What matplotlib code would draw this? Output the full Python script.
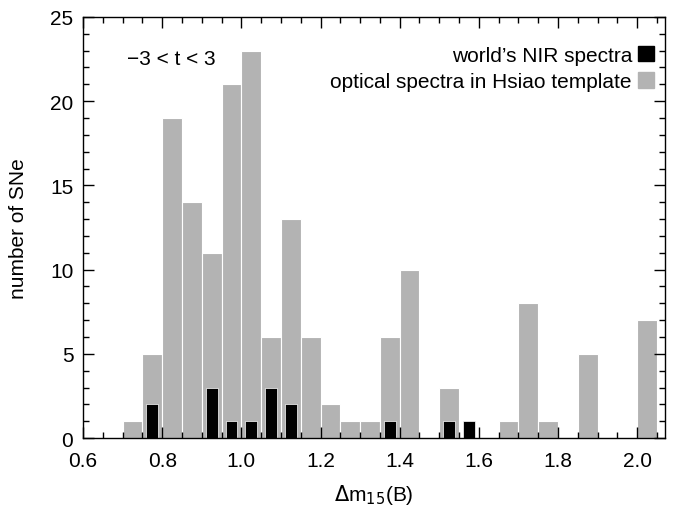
import numpy as np
import matplotlib
matplotlib.use("Agg")
import matplotlib.pyplot as plt
from matplotlib.patches import Patch
from matplotlib.ticker import MultipleLocator

plt.rcParams["font.family"] = ["Liberation Sans", "DejaVu Sans"]

# bin centres (bin width 0.05) and counts
bin_centres = [0.725, 0.775, 0.825, 0.875, 0.925, 0.975, 1.025, 1.075, 1.125,
               1.175, 1.225, 1.275, 1.325, 1.375, 1.425, 1.475, 1.525, 1.575,
               1.625, 1.675, 1.725, 1.775, 1.825, 1.875, 1.925, 1.975, 2.025]
optical_counts = [1, 5, 19, 14, 11, 21, 23, 6, 13,
                  6, 2, 1, 1, 6, 10, 0, 3, 0,
                  0, 1, 8, 1, 0, 5, 0, 0, 7]
nir_counts = [0, 2, 0, 0, 3, 1, 1, 3, 2,
              0, 0, 0, 0, 1, 0, 0, 1, 1,
              0, 0, 0, 0, 0, 0, 0, 0, 0]

gray = "#b3b3b3"
fs = 15

fig = plt.figure(figsize=(6.75, 5.1), dpi=100)
ax = fig.add_axes([0.123, 0.139, 0.862, 0.826])

ax.bar(bin_centres, optical_counts, width=0.05, color=gray,
       edgecolor="white", linewidth=0.8)
ax.bar(bin_centres, nir_counts, width=0.03, color="black",
       edgecolor="white", linewidth=0.5)

ax.set_xlim(0.6, 2.07)
ax.set_ylim(0, 25)
ax.xaxis.set_major_locator(MultipleLocator(0.2))
ax.xaxis.set_minor_locator(MultipleLocator(0.05))
ax.yaxis.set_major_locator(MultipleLocator(5))
ax.yaxis.set_minor_locator(MultipleLocator(1))
ax.xaxis.set_major_formatter(matplotlib.ticker.FormatStrFormatter("%.1f"))
ax.tick_params(which="both", direction="in", top=True, right=True,
               labelsize=fs, width=1.0)
ax.tick_params(which="major", length=8)
ax.tick_params(which="minor", length=4)
ax.tick_params(axis="x", pad=9)
ax.tick_params(axis="y", pad=7)
for s in ax.spines.values():
    s.set_linewidth(1.0)

ax.set_xlabel(r"$\Delta$m$_{15}$(B)", fontsize=fs, labelpad=9)
ax.set_ylabel("number of SNe", fontsize=fs, labelpad=16)

ax.text(0.712, 22.5, "\u22123 < t < 3", fontsize=fs, va="center")

handles = [Patch(facecolor="black", edgecolor="black"),
           Patch(facecolor=gray, edgecolor=gray)]
ax.legend(handles, ["world\u2019s NIR spectra", "optical spectra in Hsiao template"],
          loc="upper right", bbox_to_anchor=(1.0, 0.957),
          markerfirst=False, frameon=False, fontsize=fs,
          handlelength=0.75, handleheight=0.75, handletextpad=0.3,
          labelspacing=0.35, borderaxespad=0.0, borderpad=0.53)

fig.savefig("out.png", dpi=100)
